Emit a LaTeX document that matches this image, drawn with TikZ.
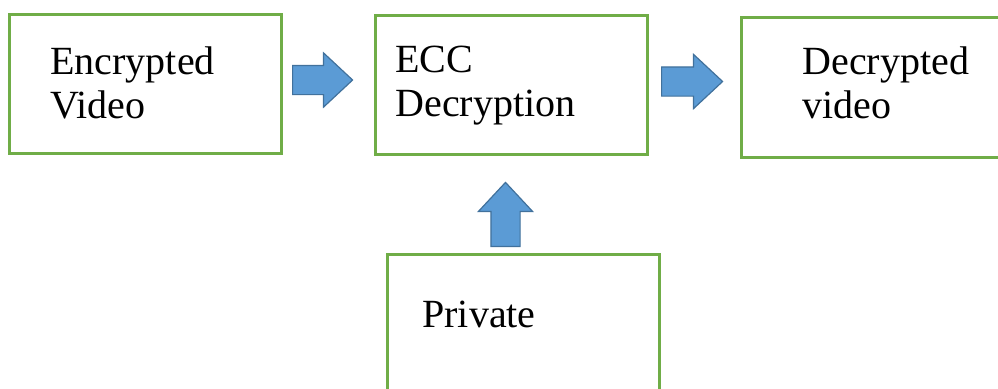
\documentclass[tikz,border=0pt]{standalone}
\usepackage{fontspec}
\setmainfont{LiberationSerif}[Extension=.ttf, UprightFont=*-Regular]
\usetikzlibrary{shapes.arrows}

\definecolor{boxgreen}{HTML}{70AD47}
\definecolor{arrowblue}{HTML}{5B9BD5}
\definecolor{arrowedge}{HTML}{41719C}

\begin{document}
\begin{tikzpicture}[x=0.5pt, y=-0.5pt,
	box/.style={draw=boxgreen, line width=1.5pt, rectangle, inner sep=0pt, anchor=north west},
	boxtext/.style={anchor=north west, inner sep=0pt, align=left, font=\rmfamily\fontsize{20pt}{22pt}\selectfont},
	blockarrow/.style={single arrow, fill=arrowblue, draw=arrowedge, line width=0.6pt,
		inner xsep=0pt, inner ysep=7pt, single arrow head extend=6.25pt,
		single arrow tip angle=86, minimum height=#1, anchor=tail}]

	% ---- frame

	\useasboundingbox (0,0) rectangle (998,388);

	% ---- boxes

	\node[box, minimum width=136pt, minimum height=69.5pt] (enc)  at (8,13)   {};
	\node[box, minimum width=136pt, minimum height=69.5pt] (ecc)  at (374,14) {};
	\node[box, minimum width=140pt, minimum height=70pt]   (dec)  at (740,16) {};
	\node[box, minimum width=136pt, minimum height=75pt]   (priv) at (386,253) {};

	% ---- texts

	\node[boxtext] (enctext)  at (50,46)  {Encrypted\\Video};
	\node[boxtext] (ecctext)  at (395,46) {ECC\\Decryption};
	\node[boxtext] (dectext)  at (802,46) {Decrypted\\video};
	\node[boxtext] (privtext) at (422,301) {Private};

	% ---- arrows

	\node[blockarrow=30pt]   (encarrow) at (292,80)   {};
	\node[blockarrow=30.5pt] (decarrow) at (661,81.5) {};
	\node[blockarrow=32pt, shape border rotate=90, inner xsep=7pt, inner ysep=0pt]
		(privarrow) at (505.5,247) {};

\end{tikzpicture}
\end{document}
